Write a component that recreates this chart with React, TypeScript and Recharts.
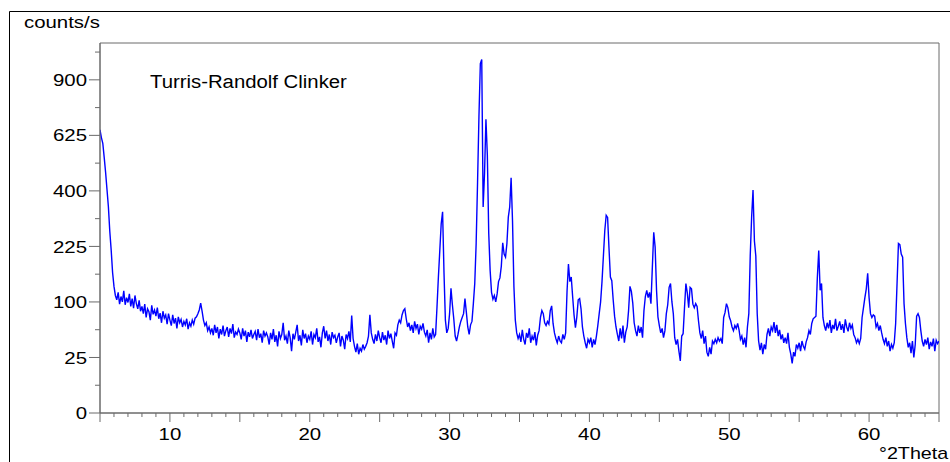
import React from "react";
import { LineChart, Line, XAxis, YAxis, ReferenceArea } from "recharts";

// scan grid: 5.0 .. 65.0 °2Theta, 0.1° step
const START_ANGLE = 5;
const STEP = 0.1;

// counts/s, one row per degree (10 steps of 0.1°)
const countsLowAngle = [
  650, 615, 590, 530, 470, 405, 345, 268, 215, 160,
  130, 112, 104, 118, 96, 110, 100, 121, 95, 108,
  99, 115, 92, 106, 89, 112, 97, 88, 103, 84,
  92, 80, 96, 74, 88, 83, 70, 94, 79, 86,
  76, 90, 72, 81, 66, 84, 73, 78, 64, 80,
  70, 62, 78, 65, 73, 58, 75, 66, 71, 60,
  68, 63, 72, 57, 66, 61, 70, 64, 73, 75,
  80, 86, 98, 84, 70, 62, 66, 55, 60, 52,
  58, 49, 63, 52, 60, 45, 57, 50, 62, 48,
  55, 60, 47, 58, 51, 64, 46, 53, 50, 57,
];

const countsBackground = [
  52, 44, 58, 48, 55, 41, 53, 47, 56, 45,
  50, 54, 43, 57, 46, 51, 40, 55, 48, 52,
  47, 38, 52, 44, 57, 41, 49, 36, 54, 45,
  50, 66, 43, 48, 39, 55, 46, 31, 51, 44,
  53, 63, 42, 49, 37, 56, 45, 51, 40, 48,
  44, 54, 38, 50, 46, 58, 41, 47, 35, 52,
  61, 45, 55, 42, 50, 38, 53, 46, 49, 40,
  47, 52, 36, 48, 43, 33, 50, 45, 54, 41,
  77, 45, 36, 30, 39, 28, 34, 31, 38, 33,
  36, 40, 48, 78, 52, 44, 39, 50, 42, 55,
  46, 40, 53, 43, 49, 38, 55, 45, 51, 42,
  34, 52, 49, 63, 70, 66, 78, 85, 88, 72,
  60, 66, 55, 63, 52, 68, 58, 64, 50, 61,
  57, 65, 53, 48, 56, 40, 52, 44, 58, 47,
];

const countsMainPeaks = [
  50, 91, 150, 214, 290, 328, 160, 70, 52, 58,
  80, 126, 95, 72, 48, 42, 50, 60, 68, 74,
  80, 106, 82, 60, 50, 63, 68, 97, 136, 233,
  430, 713, 990, 1013, 344, 467, 700, 540, 262, 165,
  118, 105, 112, 100, 115, 140, 148, 175, 235, 205,
  197, 233, 311, 344, 449, 300, 130, 70, 52, 45,
  50, 41, 56, 44, 38, 52, 46, 58, 40, 48,
  43, 53, 37, 49, 55, 74, 85, 80, 66, 62,
];

const countsMidAngle = [
  68, 64, 85, 93, 65, 52, 45, 40, 48, 42,
  40, 50, 44, 52, 120, 180, 140, 150, 110, 78,
  59, 75, 104, 106, 88, 60, 48, 40, 34, 44,
  40, 46, 35, 44, 38, 48, 62, 80, 100, 140,
  200, 270, 317, 310, 220, 150, 142, 104, 76, 60,
  50, 42, 58, 45, 62, 40, 53, 60, 85, 130,
  120, 98, 66, 55, 48, 62, 52, 60, 46, 85,
  110, 122, 108, 118, 97, 172, 265, 223, 122, 75,
  62, 52, 58, 46, 55, 80, 95, 128, 136, 100,
  80, 46, 38, 44, 31, 22, 48, 51, 90, 136,
  117, 90, 128, 125, 96, 90, 97, 92, 69, 52,
  45, 55, 39, 48, 30, 26, 35, 28, 42, 39,
  44, 40, 46, 42, 45, 39, 74, 82, 97, 90,
];

const countsHighAngle = [
  75, 69, 60, 55, 62, 58, 65, 56, 44, 48,
  38, 46, 35, 60, 80, 200, 311, 403, 240, 200,
  80, 42, 32, 40, 28, 38, 33, 50, 58, 48,
  60, 55, 67, 52, 63, 48, 56, 44, 50, 40,
  46, 39, 52, 35, 28, 20, 30, 26, 38, 34,
  40, 31, 42, 36, 33, 41, 46, 55, 50, 65,
  72, 74, 76, 149, 214, 122, 136, 74, 62, 55,
  66, 58, 70, 52, 63, 57, 72, 55, 61, 68,
  56, 64, 52, 71, 60, 54, 66, 58, 63, 50,
  46, 40, 44, 39, 45, 74, 90, 108, 125, 158,
  108, 80, 74, 78, 76, 60, 65, 55, 62, 52,
  44, 39, 46, 36, 42, 31, 38, 34, 40, 65,
  136, 233, 230, 205, 197, 97, 65, 46, 35, 40,
  29, 42, 25, 38, 76, 80, 74, 55, 42, 36,
  44, 38, 46, 33, 41, 36, 45, 31, 43, 39,
  42,
];

const X_LABELS = [10, 20, 30, 40, 50, 60];
const X_TICKS = Array.from({ length: 61 }, (_, i) => 5 + i);
const Y_LABELS = [0, 25, 100, 225, 400, 625, 900];
const Y_MINOR = [6.25, 56.25, 156.25, 306.25, 506.25, 756.25, 1056.25];

const counts = [
  ...countsLowAngle,
  ...countsBackground,
  ...countsMainPeaks,
  ...countsMidAngle,
  ...countsHighAngle,
];
const data = counts.map((c, i) => ({
  angle: Math.round((START_ANGLE + i * STEP) * 10) / 10,
  counts: c,
}));

const AXIS = "#6a6a6a";
const FONT = "'Liberation Sans', Arial, sans-serif";

const XTick = (props: any) => {
  const { x, y, payload } = props;
  const v = payload.value;
  const len = v % 5 === 0 ? 9 : 4;
  return (
    <g>
      <line x1={x} x2={x} y1={y} y2={y + len} stroke={AXIS} />
      {X_LABELS.includes(v) && (
        <text
          transform={`translate(${x},${y + 27}) scale(1.2,1)`}
          textAnchor="middle"
          fontSize={17}
          fontFamily={FONT}
          fill="#000"
        >
          {v}
        </text>
      )}
    </g>
  );
};

const YTick = (props: any) => {
  const { x, y, payload } = props;
  const v = payload.value;
  const major = Y_LABELS.includes(v);
  return (
    <g>
      <line x1={x - (major ? 11 : 5)} x2={x} y1={y} y2={y} stroke={AXIS} />
      {major && (
        <text
          transform={`translate(${x - 13},${y}) scale(1.2,1)`}
          textAnchor="end"
          dy="0.36em"
          fontSize={17}
          fontFamily={FONT}
          fill="#000"
        >
          {v}
        </text>
      )}
    </g>
  );
};

export default function App() {
  return (
    <div
      style={{
        position: "absolute",
        left: 0,
        top: 0,
        width: 950,
        height: 462,
        overflow: "hidden",
        background: "#fff",
      }}
    >
      <LineChart
        width={950}
        height={462}
        data={data}
        margin={{ top: 43, right: 11, left: 0, bottom: 0 }}
      >
        <ReferenceArea
          x1={5}
          x2={65}
          y1={0}
          y2={1110}
          fill="none"
          fillOpacity={0}
          stroke={AXIS}
          ifOverflow="visible"
        />
        <XAxis
          type="number"
          dataKey="angle"
          domain={[5, 65]}
          ticks={X_TICKS}
          interval={0}
          allowDataOverflow
          height={49}
          tickSize={0}
          tickMargin={0}
          tickLine={false}
          axisLine={{ stroke: AXIS }}
          tick={<XTick />}
        />
        <YAxis
          type="number"
          scale="sqrt"
          domain={[0, 1110]}
          ticks={[...Y_LABELS, ...Y_MINOR].sort((a, b) => a - b)}
          interval={0}
          allowDataOverflow
          width={100}
          tickSize={0}
          tickMargin={0}
          tickLine={false}
          axisLine={{ stroke: AXIS }}
          tick={<YTick />}
        />
        <Line
          type="linear"
          dataKey="counts"
          stroke="#0000ff"
          strokeWidth={1.4}
          dot={false}
          isAnimationActive={false}
        />
      </LineChart>
      <svg
        width={950}
        height={462}
        style={{ position: "absolute", left: 0, top: 0, pointerEvents: "none" }}
      >
        <path d="M9.5 462 V11.5 H950" fill="none" stroke="#000" />
        <text
          transform="translate(24,28) scale(1.2,1)"
          fontSize={17}
          fontFamily={FONT}
          fill="#000"
        >
          counts/s
        </text>
        <text
          transform="translate(150,88) scale(1.13,1)"
          fontSize={18}
          fontFamily={FONT}
          fill="#000"
        >
          Turris-Randolf Clinker
        </text>
        <text
          transform="translate(879,459) scale(1.16,1)"
          fontSize={17}
          fontFamily={FONT}
          fill="#000"
        >
          °2Theta
        </text>
      </svg>
    </div>
  );
}
